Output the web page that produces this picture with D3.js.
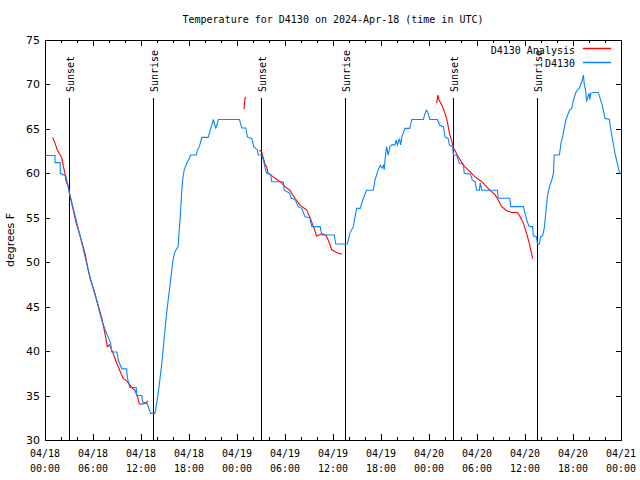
<!DOCTYPE html>
<html><head><meta charset="utf-8">
<script src="https://cdn.jsdelivr.net/npm/d3@7"></script>
<style>body{margin:0;background:#fff}svg{display:block}text{font-family:"DejaVu Sans Mono",monospace;font-size:10px;fill:#000}</style>
</head><body>
<script>
const title = "Temperature for D4130 on 2024-Apr-18 (time in UTC)";
const yLabel = "degrees F";
const seriesNames = ["D4130 Analysis", "D4130"];
const xTickHours = [0,6,12,18,24,30,36,42,48,54,60,66,72];
const xTickDates = ["04/18","04/18","04/18","04/18","04/19","04/19","04/19","04/19","04/20","04/20","04/20","04/20","04/21"];
const xTickTimes = ["00:00","06:00","12:00","18:00","00:00","06:00","12:00","18:00","00:00","06:00","12:00","18:00","00:00"];
const yTicks = [30,35,40,45,50,55,60,65,70,75];
const sunEvents = [[3,"Sunset"],[13.5,"Sunrise"],[27,"Sunset"],[37.5,"Sunrise"],[51,"Sunset"],[61.5,"Sunrise"]];
// observations [hour since 04/18 00:00, degF]
const obs = [[0,62],[1.25,62],[1.25,61.2],[1.9,61.2],[1.9,60],[2.6,59.7],[3,58.1],[3.1,57.6],[4.4,52.9],[5.6,48.4],[6.45,45.75],[6.9,44.1],[7.2,43.2],[7.7,42],[8.2,40.9],[8.35,39.9],[9,39.9],[9.15,39],[9.6,38],[10.2,38],[10.3,37],[10.6,35.9],[11.4,35.9],[11.45,35],[12.1,35],[12.2,34.3],[12.8,34.05],[13.2,33],[13.75,33],
[13.95,34.1],[14.15,35.25],[14.4,37.1],[14.6,38.6],[14.8,40.5],[15,42.4],[15.2,44.25],[15.4,45.75],[15.6,47.25],[15.8,48.75],[16,50.25],[16.25,51.2],[16.65,51.75],[16.75,53.3],[16.9,55.1],[17,56.6],[17.1,58.1],[17.2,59.25],[17.4,60.4],[17.7,61.1],[18.05,61.7],[18.2,62.06],[18.9,62.06],[19.05,62.6],[19.3,63],[19.6,64.05],[20.4,64.05],[20.6,64.7],[20.85,65.4],[21.05,66.06],[21.15,65.6],[21.35,65.1],[21.55,65.6],[21.65,66.06],[24.3,66.06],[24.6,65.1],[25.1,65.1],[25.3,64.1],[25.85,63.9],[26.1,63],[26.55,62.6],[26.65,62.06],[27.1,62.06],[27.3,61.5],[27.5,60.7],[27.7,60],[28.2,59.9],[28.35,59.06],[29.8,59.06],[29.9,58.1],[30.6,57.75],[30.75,57.2],[31.25,57.1],[31.65,56.25],[32.1,56.06],[32.5,55.1],[33.1,55],[33.35,54],[34.4,54],[34.6,53.06],[36.15,53.06],[36.35,52.05],[37.8,52.05],
[38.1,53.25],[38.55,54],[38.75,55.1],[38.95,56.06],[39.4,56.06],[39.8,57.2],[40.2,58.1],[41.05,58.1],[41.25,59.25],[41.45,59.8],[41.65,60.4],[41.9,60.9],[42.1,60.6],[42.3,60.9],[42.4,60.4],[42.5,61.5],[42.7,63],[42.9,62.06],[43.1,63],[43.35,63.2],[43.75,63.2],[43.9,63.75],[44.05,63.2],[44.3,63.9],[44.45,63.2],[44.6,64.1],[45,65.06],[45.6,65.06],[45.85,66.06],[47.3,66.06],[47.5,66.75],[47.7,67.1],[47.9,66.75],[48.1,66.06],[49.05,66.06],[49.35,65.4],[49.8,65.25],[50,64.1],[50.4,63.9],[50.55,63.2],[50.95,63],[51.05,62.06],[51.45,62.06],[51.65,61.5],[51.8,61.1],[52.3,61.05],[52.4,60],[53.2,59.9],[53.4,59.25],[53.75,59.06],[53.95,58.1],[54.3,58.1],[54.4,58.9],[54.6,58.1],[56.55,58.1],[56.65,57.2],[58.1,57.2],[58.2,56.25],[59.8,56.25],[60,55.5],[60.3,54.5],[60.55,54],[60.95,54],[61.05,52.95],[61.4,52.9],[61.55,52.1],[61.8,52.05],[61.95,52.9],[62.2,52.95],[62.4,53.8],[62.6,55.5],[62.8,57.4],[63.05,58.5],[63.35,59.25],[63.55,60],[63.65,62.06],[64.3,62.06],[64.5,63.4],[64.7,64.1],[64.9,65.06],[65.1,66],[65.55,67.1],[65.85,67.3],[66.05,68.25],[66.4,69.2],[66.8,69.6],[67.1,70.3],[67.3,71.06],[67.4,70.1],[67.6,69.2],[67.7,68.06],[67.85,68.6],[68,69],[68.1,68.3],[68.2,69],[68.45,69.1],[69.15,69.1],[69.4,68.4],[69.65,67.7],[70,66.2],[70.55,66.06],[70.7,65.06],[70.95,63.75],[71.25,62.25],[71.55,61.1],[71.8,60.06],[72,60]];
// analysis segments
const analysis1 = [[0.96,64.05],[1.25,63.4],[1.55,62.6],[1.9,62.06],[2.1,61.7],[2.3,60.75],[2.5,60],[2.6,59.25],[2.9,58.5],[3.1,57.6],[3.4,56.4],[3.9,54.4],[4.3,53.25],[4.6,52.3],[5,51],[5.4,49.1],[5.7,48],[6.1,46.9],[6.45,45.75],[7.1,43.7],[7.4,42.4],[7.8,40.5],[8.05,40.7],[8.45,39.9],[8.9,38.8],[9.4,37.7],[9.8,36.9],[10.3,36.6],[10.85,35.9],[11.25,35.6],[11.55,34.9],[11.8,34.05],[12.3,34.05],[12.6,34.2],[12.9,34.4]];
const analysis2 = [[24.87,67.2],[24.92,67.9],[25.05,68.6]];
const analysis3 = [[26.8,62.6],[27.1,62.4],[27.2,62.06],[27.5,61],[27.7,60.75],[27.9,60],[28.55,59.6],[29.4,59.06],[30,58.5],[30.6,58.1],[31.25,57.2],[31.9,56.4],[32.7,55.9],[33.1,55.1],[33.55,54],[33.95,52.95],[34.6,53.2],[35.1,53.06],[35.4,52.5],[35.85,51.4],[36.45,51.1],[37.1,50.9]];
const analysis4 = [[48.96,67.9],[49.1,68.8],[49.25,68.25],[49.6,67.7],[50,66.75],[50.3,65.8],[50.55,64.5],[50.85,63.6],[51.1,62.8],[51.65,61.9],[52.3,60.9],[52.9,60.4],[53.75,59.6],[54.6,59.06],[55.6,58.1],[56.25,57.6],[56.65,57],[57.1,56.25],[57.7,55.8],[58.35,55.6],[59.05,55.6],[59.4,55.1],[59.8,54.4],[60.2,53.25],[60.55,52.1],[60.96,50.4]];
const analysisSegs = [analysis1, analysis2, analysis3, analysis4];

const W=640,H=480, L=45, R=621, T=40, B=440;
const svg=d3.select("body").append("svg").attr("width",W).attr("height",H);
const x=d3.scaleLinear().domain([0,72]).range([L,R]);
const y=d3.scaleLinear().domain([30,75]).range([B,T]);

svg.append("text").attr("x",(L+R)/2).attr("y",23).attr("text-anchor","middle").text(title);

// ticks
const minor = d3.range(0,73,2);
const tk = svg.append("g").attr("stroke","#000").attr("stroke-width",1).attr("shape-rendering","crispEdges");
minor.forEach(h=>{
  const len = h%6===0?6:3;
  tk.append("line").attr("x1",Math.round(x(h))+0.5).attr("x2",Math.round(x(h))+0.5).attr("y1",B).attr("y2",B-len);
  tk.append("line").attr("x1",Math.round(x(h))+0.5).attr("x2",Math.round(x(h))+0.5).attr("y1",T).attr("y2",T+len);
});
yTicks.forEach(v=>{
  tk.append("line").attr("x1",L).attr("x2",L+5).attr("y1",Math.round(y(v))+0.5).attr("y2",Math.round(y(v))+0.5);
  tk.append("line").attr("x1",R).attr("x2",R-5).attr("y1",Math.round(y(v))+0.5).attr("y2",Math.round(y(v))+0.5);
});
yTicks.forEach(v=>{
  svg.append("text").attr("x",L-5).attr("y",y(v)+4).attr("text-anchor","end")
    .style("font-family","'DejaVu Sans',sans-serif").style("font-size","11px").text(v);
});
xTickHours.forEach((h,i)=>{
  svg.append("text").attr("x",x(h)).attr("y",457).attr("text-anchor","middle").text(xTickDates[i]);
  svg.append("text").attr("x",x(h)).attr("y",472).attr("text-anchor","middle").text(xTickTimes[i]);
});
svg.append("text").attr("transform",`translate(14,${(T+B)/2}) rotate(-90)`).attr("text-anchor","middle")
  .style("font-family","'DejaVu Sans',sans-serif").style("font-size","11px").text(yLabel);

// sun lines
sunEvents.forEach(([h,lab])=>{
  const px=Math.round(x(h))+0.5;
  svg.append("line").attr("x1",px).attr("x2",px).attr("y1",98).attr("y2",B).attr("stroke","#000").attr("shape-rendering","crispEdges");
  svg.append("text").attr("transform",`translate(${px+4},92) rotate(-90)`).attr("text-anchor","start").text(lab);
});

const line=d3.line().x(d=>x(d[0])).y(d=>y(d[1]));
const red="#ff0000", blue="#0a84ff";
analysisSegs.forEach(s=>{
  svg.append("path").datum(s).attr("d",line).attr("fill","none").attr("stroke",red).attr("stroke-width",1.1);
});
svg.append("path").datum(obs).attr("d",line).attr("fill","none").attr("stroke",blue).attr("stroke-width",1.1);

// frame
svg.append("rect").attr("x",L+0.5).attr("y",T+0.5).attr("width",R-L).attr("height",B-T).attr("fill","none").attr("stroke","#000").attr("shape-rendering","crispEdges");

// legend
svg.append("text").attr("x",575).attr("y",54).attr("text-anchor","end").text(seriesNames[0]);
svg.append("line").attr("x1",583).attr("x2",611).attr("y1",48.5).attr("y2",48.5).style("stroke",red).style("stroke-width","1.5px");
svg.append("text").attr("x",575).attr("y",67).attr("text-anchor","end").text(seriesNames[1]);
svg.append("line").attr("x1",583).attr("x2",611).attr("y1",62.5).attr("y2",62.5).style("stroke",blue).style("stroke-width","1.5px");
</script>
</body></html>
